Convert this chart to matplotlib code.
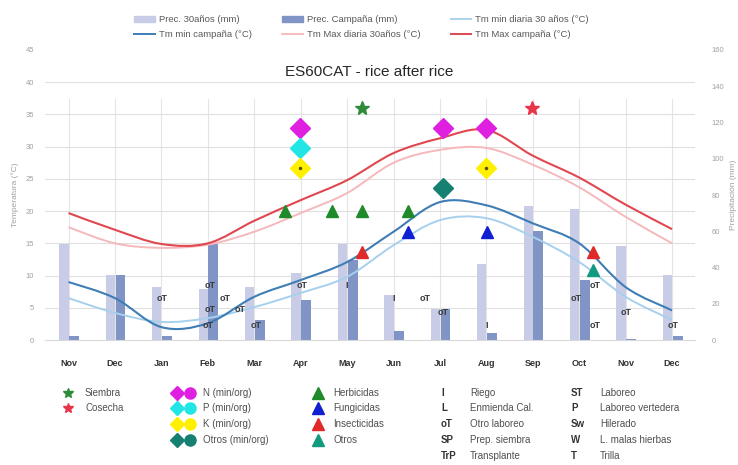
import matplotlib.pyplot as plt
import numpy as np
from matplotlib.path import Path
from matplotlib.patches import PathPatch, Patch
from matplotlib.lines import Line2D
from matplotlib.ticker import FixedLocator

plt.rcParams['font.family'] = ['Liberation Sans', 'DejaVu Sans']

# data
months = ['Nov', 'Dec', 'Jan', 'Feb', 'Mar', 'Apr', 'May', 'Jun', 'Jul', 'Aug', 'Sep', 'Oct', 'Nov', 'Dec']
prec_30 = [53, 36, 29, 28, 29, 37, 53, 25, 17, 42, 74, 72, 52, 36]
prec_camp = [2, 36, 2, 53, 11, 22, 44, 5, 17, 4, 60, 33, 0.5, 2]
tmin_30 = [6.5, 4.2, 2.8, 3.4, 5.1, 7.3, 9.8, 14.7, 18.6, 18.9, 16.0, 12.1, 6.7, 3.1]
tmin_camp = [9.0, 6.5, 2.0, 2.6, 6.7, 9.3, 12.1, 16.8, 21.4, 20.9, 18.1, 15.0, 8.2, 4.6]
tmax_30 = [17.5, 15.0, 14.3, 14.8, 16.8, 19.7, 22.8, 27.5, 29.5, 29.8, 27.2, 23.7, 19.1, 15.0]
tmax_camp = [19.7, 17.1, 14.9, 15.0, 18.5, 21.7, 24.8, 29.0, 31.3, 32.6, 28.6, 25.2, 21.0, 17.2]

# field operations (x in month index, y in degC)
siembra_x, siembra_y = [6.33], [36]
cosecha_x, cosecha_y = [9.99], [36]
n_x, n_y = [4.99, 8.06, 9.0], [32.9, 32.9, 32.9]
p_x, p_y = [4.99], [29.8]
k_x, k_y = [4.99, 9.0], [26.7, 26.7]
otrosf_x, otrosf_y = [8.06], [23.6]
herb_x, herb_y = [4.67, 5.68, 6.33, 7.32], [20, 20, 20, 20]
fung_x, fung_y = [7.32, 9.02], [16.8, 16.8]
insect_x, insect_y = [6.33, 11.3], [13.7, 13.7]
otros_x, otros_y = [11.3], [10.9]

op_labels = ['oT', 'oT', 'oT', 'oT', 'oT', 'oT', 'oT', 'oT', 'I', 'I', 'oT', 'oT', 'I', 'oT', 'oT', 'oT', 'oT', 'oT']
op_x = [2.02, 3.05, 3.37, 3.05, 3.70, 3.0, 4.04, 5.03, 6.0, 7.0, 7.68, 8.07, 9.0, 10.94, 11.35, 11.35, 12.0, 13.03]
op_y = [6.4, 8.5, 6.5, 4.7, 4.7, 2.3, 2.2, 8.4, 8.5, 6.5, 6.5, 4.3, 2.3, 6.5, 8.5, 2.3, 4.3, 2.3]

c_p30 = '#c8cce6'
c_pc = '#8194c6'
c_tmin30 = '#a6d0ec'
c_tminc = '#3f7db5'
c_tmax30 = '#f5b8bc'
c_tmaxc = '#e0474f'


def smooth_path(xs, ys):
    pts = np.column_stack([xs, ys]).astype(float)
    n = len(pts)
    verts = [pts[0]]
    codes = [Path.MOVETO]
    for i in range(n - 1):
        p0 = pts[i - 1] if i > 0 else pts[i]
        p1 = pts[i]
        p2 = pts[i + 1]
        p3 = pts[i + 2] if i + 2 < n else pts[i + 1]
        verts += [p1 + (p2 - p0) / 6, p2 - (p3 - p1) / 6, p2]
        codes += [Path.CURVE4] * 3
    return Path(verts, codes)


fig = plt.figure(figsize=(7.38, 4.65), dpi=100)
ax = fig.add_axes([45.3 / 738, 125 / 465, 650 / 738, 290 / 465])
ax2 = ax.twinx()
ax.set_zorder(ax2.get_zorder() + 1)
ax.patch.set_visible(False)

x = np.arange(len(months))

# bars on the precipitation axis (behind)
ax2.bar(x - 0.1, prec_30, width=0.2, color=c_p30, zorder=2)
ax2.bar(x + 0.12, prec_camp, width=0.21, color=c_pc, zorder=2)
ax2.set_ylim(0, 160)
ax2.set_yticks(np.arange(0, 161, 20))
ax2.yaxis.set_minor_locator(FixedLocator(np.arange(0, 46, 5) * 160 / 45))
ax2.grid(which='minor', axis='y', color='#e0e0e0', lw=0.8, zorder=0)
ax2.tick_params(which='both', length=0)
ax2.tick_params(axis='y', labelsize=5.5, labelcolor='#a0a0a0', pad=12)
for xv in x:
    ax2.axvline(xv, ymin=0, ymax=0.83, color='#e4e4e4', lw=0.8, zorder=0)
ax2.set_ylabel('Precipitación (mm)', fontsize=6, color='#a0a0a0', labelpad=4)

# temperature lines
for vals, col, lw in [(tmin_30, c_tmin30, 1.4), (tmax_30, c_tmax30, 1.4),
                      (tmin_camp, c_tminc, 1.5), (tmax_camp, c_tmaxc, 1.5)]:
    ax.add_patch(PathPatch(smooth_path(x, vals), fill=False, edgecolor=col, lw=lw, zorder=3))

ax.set_xlim(-0.5, 13.5)
ax.set_ylim(0, 45)
ax.set_yticks(np.arange(0, 46, 5))
ax.set_xticks(x)
ax.set_xticklabels(months, fontsize=6.5, fontweight='bold', color='#333333')
ax.tick_params(axis='x', length=0, pad=14)
ax.tick_params(axis='y', length=0, labelsize=5.5, labelcolor='#a0a0a0', pad=8)
ax.set_ylabel('Temperatura (°C)', fontsize=6, color='#a0a0a0', labelpad=5)
for a in (ax, ax2):
    for s in a.spines.values():
        s.set_visible(False)
ax.spines['bottom'].set_visible(True)
ax.spines['bottom'].set_color('#d9d9d9')

# operation markers
ax.plot(siembra_x, siembra_y, '*', color='#2e8b3a', ms=10, zorder=5)
ax.plot(cosecha_x, cosecha_y, '*', color='#e8334a', ms=10, zorder=5)
ax.plot(n_x, n_y, 'D', color='#e020e0', ms=10, zorder=5)
ax.plot(p_x, p_y, 'D', color='#22e6e6', ms=10, zorder=5)
ax.plot(k_x, k_y, 'D', color='#fff000', ms=10, zorder=5)
ax.plot(k_x, k_y, '.', color='#5a5000', ms=3, zorder=6)
ax.plot(otrosf_x, otrosf_y, 'D', color='#168072', ms=10, zorder=5)
ax.plot(herb_x, herb_y, '^', color='#1f8a2a', ms=9, zorder=5)
ax.plot(fung_x, fung_y, '^', color='#1020d0', ms=9, zorder=5)
ax.plot(insect_x, insect_y, '^', color='#e02a2a', ms=9, zorder=5)
ax.plot(otros_x, otros_y, '^', color='#119a80', ms=9, zorder=5)
for lab, xv, yv in zip(op_labels, op_x, op_y):
    ax.text(xv, yv, lab, fontsize=6.5, fontweight='bold', color='#3a3a3a',
            ha='center', va='center', zorder=6)

# title
fig.text(0.5, 1 - 72 / 465, 'ES60CAT - rice after rice', fontsize=11, ha='center',
         va='center', color='#262626')

# top legend (row-wise order)
h = [Patch(color=c_p30), Patch(color=c_pc), Line2D([], [], color=c_tmin30, lw=1.3),
     Line2D([], [], color=c_tminc, lw=1.4), Line2D([], [], color=c_tmax30, lw=1.3),
     Line2D([], [], color=c_tmaxc, lw=1.4)]
lbl = ['Prec. 30años (mm)', 'Prec. Campaña (mm)', 'Tm min diaria 30 años (°C)',
       'Tm min campaña (°C)', 'Tm Max diaria 30años (°C)', 'Tm Max campaña (°C)']
order = [0, 3, 1, 4, 2, 5]
fig.legend([h[i] for i in order], [lbl[i] for i in order], ncol=3, loc='center',
           bbox_to_anchor=(0.49, 1 - 27 / 465), frameon=False, fontsize=6.8,
           labelcolor='#595959', handlelength=2.2, handleheight=0.6,
           columnspacing=3.2, labelspacing=0.6, handletextpad=0.4)

# bottom legend in pixel coordinates
lg = fig.add_axes([0, 0, 1, 1], zorder=-1)
lg.set_xlim(0, 738)
lg.set_ylim(465, 0)
lg.axis('off')
rows = [393, 408, 424, 440, 456]
tc = '#505050'
fs = 7
lg.plot(68, rows[0], '*', color='#2e8b3a', ms=7)
lg.plot(68, rows[1], '*', color='#e8334a', ms=7)
lg.text(85, rows[0], 'Siembra', fontsize=fs, color=tc, va='center')
lg.text(85, rows[1], 'Cosecha', fontsize=fs, color=tc, va='center')
fert = [('#e020e0', 'N (min/org)'), ('#22e6e6', 'P (min/org)'),
        ('#fff000', 'K (min/org)'), ('#168072', 'Otros (min/org)')]
for r, (c, t) in zip(rows, fert):
    lg.plot(177, r, 'D', color=c, ms=7)
    lg.plot(190, r, 'o', color=c, ms=8)
    lg.text(203, r, t, fontsize=fs, color=tc, va='center')
tri = [('#1f8a2a', 'Herbicidas'), ('#1020d0', 'Fungicidas'),
       ('#e02a2a', 'Insecticidas'), ('#119a80', 'Otros')]
for r, (c, t) in zip(rows, tri):
    lg.plot(318, r, '^', color=c, ms=8)
    lg.text(333, r, t, fontsize=fs, color=tc, va='center')
col4 = [('I', 'Riego'), ('L', 'Enmienda Cal.'), ('oT', 'Otro laboreo'),
        ('SP', 'Prep. siembra'), ('TrP', 'Transplante')]
col5 = [('ST', 'Laboreo'), ('P', 'Laboreo vertedera'), ('Sw', 'Hilerado'),
        ('W', 'L. malas hierbas'), ('T', 'Trilla')]
for r, (s, t) in zip(rows, col4):
    lg.text(441, r, s, fontsize=fs, fontweight='bold', color='#333333', va='center')
    lg.text(470, r, t, fontsize=fs, color=tc, va='center')
for r, (s, t) in zip(rows, col5):
    lg.text(571, r, s, fontsize=fs, fontweight='bold', color='#333333', va='center')
    lg.text(600, r, t, fontsize=fs, color=tc, va='center')

fig.savefig('out.png', dpi=100)
